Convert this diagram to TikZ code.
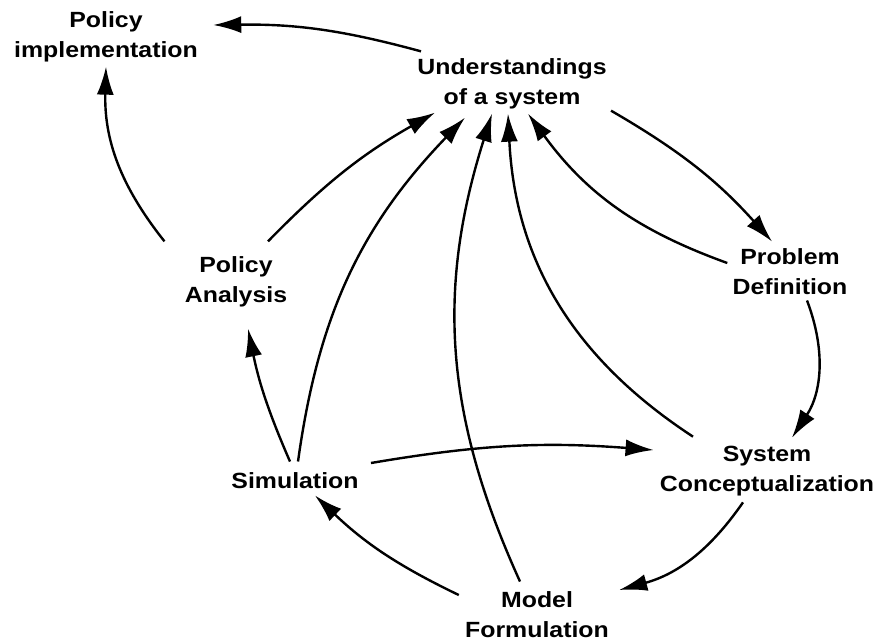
\documentclass[tikz,border=0pt]{standalone}
\usepackage{fontspec}
\setmainfont{Liberation Sans}[FakeStretch=1.13]
\usepackage{tikz}
\usetikzlibrary{arrows.meta,calc}
\tikzstyle{stage}=[font=\fontsize{11}{15}\selectfont\bfseries, align=center, inner sep=2pt]
\tikzstyle{flow}=[-{Latex[length=14pt,width=8.5pt]}, line width=1.2pt]
\begin{document}
\begin{tikzpicture}[x=0.5pt,y=-0.5pt]
\useasboundingbox (0,0) rectangle (881,643);
\node[stage] (pi) at (106,37) {Policy\\implementation};
\node[stage] (und) at (512,84) {Understandings\\of a system};
\node[stage] (pd) at (790,272) {Problem\\Definition};
\node[stage] (sc) at (767,471) {System\\Conceptualization};
\node[stage] (mf) at (537,615) {Model\\Formulation};
\node[stage] (sim) at (295,481) {Simulation};
\node[stage] (pa) at (236,282) {Policy\\Analysis};
% outward from the understanding
\draw[flow] ($(und.north west)+(8,-3)$) to[bend right=8] ($(pi.east)+(11,-12)$);
\draw[flow] ($(und.south east)+(0,-3)$) to[bend left=9] ($(pd.north)+(-18,-3)$);
% around the loop
\draw[flow] ($(pd.south)+(17,1)$) to[bend left=27] ($(sc.north)+(25,-4)$);
\draw[flow] ($(sc.south)+(-24,2)$) to[bend left=20] ($(mf.east)+(6,-25)$);
\draw[flow] ($(mf.west)+(-2,-20)$) to[bend left=9] ($(sim.south)+(20,2)$);
\draw[flow] ($(sim.north)+(-5,-7)$) to[bend left=6] ($(pa.south)+(12,17)$);
\draw[flow] ($(pa.north west)+(-16,-11)$) to[bend left=20] (pi.south);
\draw[flow] ($(sim.east)+(8,-18)$) to[bend left=7] ($(sc.west)+(-2,-21)$);
% back to the understanding
\draw[flow] ($(pa.north)+(32,-11)$) to[bend left=8] ($(und.south)+(-77,-1)$);
\draw[flow] ($(sim.north)+(3,-7)$) to[bend left=18] ($(und.south)+(-47,4)$);
\draw[flow] ($(mf.north)+(-17,-6)$) to[bend left=21] ($(und.south)+(-20,0)$);
\draw[flow] ($(sc.north)+(-74,-5)$) to[bend left=27] ($(und.south)+(-4,0)$);
\draw[flow] ($(pd.west)+(-1,-9)$) to[bend left=17] ($(und.south)+(16,0)$);
\end{tikzpicture}
\end{document}
